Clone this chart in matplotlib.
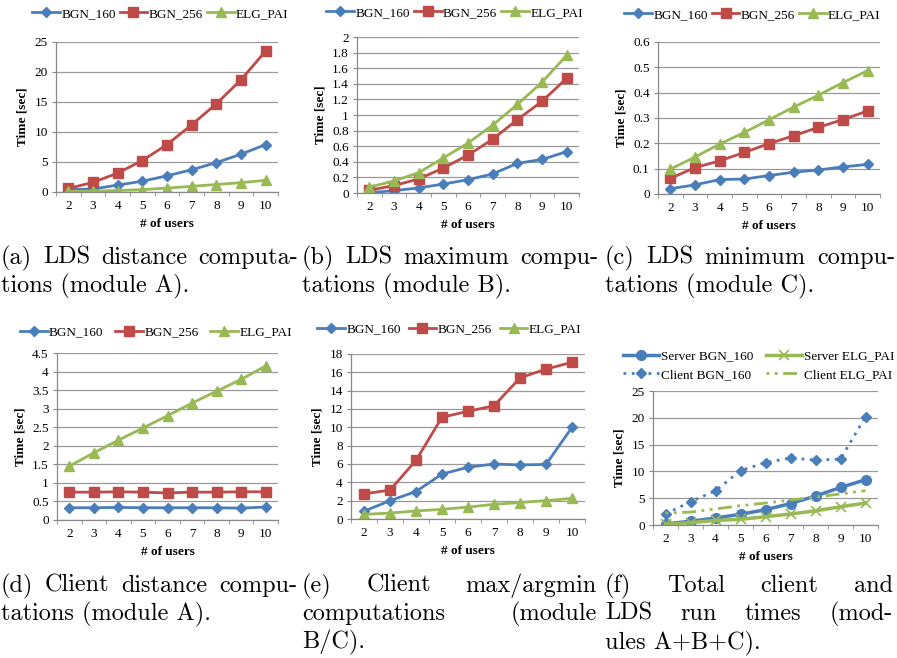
import numpy as np
import matplotlib
matplotlib.use('Agg')
import matplotlib.pyplot as plt
from matplotlib.ticker import FormatStrFormatter, MultipleLocator

# ---- data ----
users = [2, 3, 4, 5, 6, 7, 8, 9, 10]
labels3 = ['BGN_160', 'BGN_256', 'ELG_PAI']

a_bgn160 = [0.4, 0.5, 1.15, 1.8, 2.7, 3.7, 4.9, 6.3, 7.9]
a_bgn256 = [0.6, 1.6, 3.15, 5.25, 7.9, 11.2, 14.7, 18.7, 23.5]
a_elg = [0.1, 0.15, 0.25, 0.4, 0.65, 0.95, 1.25, 1.55, 1.95]

b_bgn160 = [0.005, 0.03, 0.065, 0.115, 0.17, 0.245, 0.38, 0.43, 0.53]
b_bgn256 = [0.035, 0.095, 0.18, 0.32, 0.485, 0.69, 0.94, 1.175, 1.47]
b_elg = [0.075, 0.155, 0.26, 0.45, 0.64, 0.87, 1.135, 1.42, 1.765]

c_bgn160 = [0.021, 0.036, 0.057, 0.059, 0.073, 0.086, 0.095, 0.107, 0.117]
c_bgn256 = [0.062, 0.104, 0.131, 0.164, 0.199, 0.23, 0.263, 0.294, 0.328]
c_elg = [0.098, 0.146, 0.197, 0.243, 0.293, 0.343, 0.39, 0.44, 0.487]

d_bgn160 = [0.33, 0.33, 0.34, 0.33, 0.33, 0.33, 0.33, 0.32, 0.35]
d_bgn256 = [0.75, 0.75, 0.76, 0.75, 0.73, 0.75, 0.75, 0.76, 0.76]
d_elg = [1.45, 1.81, 2.15, 2.48, 2.81, 3.15, 3.47, 3.79, 4.15]

e_bgn160 = [0.85, 2.0, 3.0, 4.9, 5.65, 6.0, 5.9, 5.95, 10.0]
e_bgn256 = [2.75, 3.15, 6.4, 11.1, 11.75, 12.35, 15.4, 16.35, 17.1]
e_elg = [0.5, 0.65, 0.88, 1.05, 1.3, 1.6, 1.8, 2.0, 2.25]

f_server_bgn = [0.2, 0.7, 1.3, 2.0, 2.85, 4.0, 5.4, 7.0, 8.45]
f_client_bgn = [2.05, 4.35, 6.4, 10.15, 11.65, 12.5, 12.1, 12.3, 20.2]
f_server_elg = [0.15, 0.45, 0.85, 1.05, 1.55, 2.05, 2.65, 3.4, 4.1]
f_client_elg = [2.25, 2.4, 3.0, 3.6, 4.1, 4.65, 5.2, 5.8, 6.4]

W, H = 897, 658
BLUE = '#4a7ebb'
RED = '#be4b48'
GREEN = '#98b954'
SERIF = 'Liberation Serif'

fig = plt.figure(figsize=(W / 100, H / 100), dpi=100)


def make_ax(l, r, t, b):
    return fig.add_axes([l / W, 1 - b / H, (r - l) / W, (b - t) / H])


def style(ax, ymax, ystep, fmt='%g'):
    ax.set_xlim(1.5, 10.5)
    ax.set_ylim(0, ymax)
    ax.yaxis.set_major_locator(MultipleLocator(ystep))
    ax.yaxis.set_major_formatter(FormatStrFormatter(fmt))
    ax.set_xticks(users)
    ax.set_xticks(np.arange(1.5, 10.6, 1), minor=True)
    ax.tick_params(axis='x', which='major', length=0, pad=6)
    ax.tick_params(axis='x', which='minor', length=3, color='#888888', direction='out')
    ax.tick_params(axis='y', length=3, color='#888888', pad=3)
    for lab in ax.get_xticklabels() + ax.get_yticklabels():
        lab.set_fontfamily(SERIF)
        lab.set_fontsize(9.5)
    ax.grid(axis='y', color='#9a9a9a', linewidth=0.9)
    ax.set_axisbelow(True)
    for s in ['top', 'right']:
        ax.spines[s].set_visible(False)
    for s in ['left', 'bottom']:
        ax.spines[s].set_color('#888888')
        ax.spines[s].set_linewidth(0.9)
    ax.set_xlabel('# of users', fontfamily=SERIF, fontweight='bold', fontsize=9.5, labelpad=4)
    ax.set_ylabel('Time [sec]', fontfamily=SERIF, fontweight='bold', fontsize=9.5, labelpad=4)


def three_lines(ax, s1, s2, s3, lx, ly, colsp=0.3):
    ax.plot(users, s1, color=BLUE, marker='D', markersize=5, lw=2, label=labels3[0])
    ax.plot(users, s2, color=RED, marker='s', markersize=6.5, lw=2, label=labels3[1])
    ax.plot(users, s3, color=GREEN, marker='^', markersize=7, lw=2, label=labels3[2])
    ax.legend(loc='center', bbox_to_anchor=(lx, ly), ncol=3, frameon=False,
              prop={'family': SERIF, 'size': 9.5}, handlelength=2.1, handletextpad=0.1,
              columnspacing=colsp, borderaxespad=0, borderpad=0)


ax = make_ax(56, 278, 42, 192)
three_lines(ax, a_bgn160, a_bgn256, a_elg, 0.47, 1.187)
style(ax, 25, 5)

ax = make_ax(357, 579, 37, 193)
three_lines(ax, b_bgn160, b_bgn256, b_elg, 0.44, 1.155)
style(ax, 2, 0.2)

ax = make_ax(658, 880, 42, 194)
three_lines(ax, c_bgn160, c_bgn256, c_elg, 0.425, 1.18)
style(ax, 0.6, 0.1)

ax = make_ax(57, 278, 353, 520)
three_lines(ax, d_bgn160, d_bgn256, d_elg, 0.448, 1.125, colsp=0.9)
style(ax, 4.5, 0.5)

ax = make_ax(351, 585, 354, 519)
three_lines(ax, e_bgn160, e_bgn256, e_elg, 0.42, 1.15, colsp=0.6)
style(ax, 18, 2)

ax = make_ax(653, 878, 391, 525)
ax.plot(users, f_server_bgn, color=BLUE, marker='o', markersize=7, lw=2.5, label='Server BGN_160')
ax.plot(users, f_client_bgn, color=BLUE, marker='D', markersize=5.5, lw=2, ls=(0, (1, 2)), label='Client BGN_160')
ax.plot(users, f_server_elg, color=GREEN, marker='x', markersize=7, mew=1.2, lw=2.5, label='Server ELG_PAI')
ax.plot(users, f_client_elg, color=GREEN, lw=2, ls=(0, (1, 2, 1, 2, 5, 2)), label='Client ELG_PAI')
style(ax, 25, 5)
ax.legend(loc='center', bbox_to_anchor=(0.47, 1.19), ncol=2, frameon=False,
          prop={'family': SERIF, 'size': 9.5}, handlelength=2.7, handletextpad=0.15,
          columnspacing=1.0, labelspacing=0.5, borderaxespad=0, borderpad=0)

# ---- captions (justified like the LaTeX original) ----
CAP = dict(family='cmr10', fontsize=17.5, va='baseline', ha='left')
renderer = fig.canvas.get_renderer()


def caption(lines, x0, x1, y0):
    for k, (txt, just) in enumerate(lines):
        y = 1 - (y0 + 28 * k) / H
        if not just:
            fig.text(x0 / W, y, txt, **CAP)
            continue
        words = txt.split(' ')
        ts = [fig.text(0, y, w, **CAP) for w in words]
        ws = [t.get_window_extent(renderer).width for t in ts]
        gap = (x1 - x0 - sum(ws)) / (len(words) - 1)
        x = x0
        for t, w in zip(ts, ws):
            t.set_x(x / W)
            x += w + gap


caption([('(a) LDS distance computa-', True), ('tions (module A).', False)], 1, 298, 264)
caption([('(b) LDS maximum compu-', True), ('tations (module B).', False)], 302, 598, 264)
caption([('(c) LDS minimum compu-', True), ('tations (module C).', False)], 605, 895, 264)
caption([('(d) Client distance compu-', True), ('tations (module A).', False)], 1, 297, 592)
caption([('(e) Client max/argmin', True), ('computations (module', True), ('B/C).', False)], 302, 597, 592)
caption([('(f) Total client and', True), ('LDS run times (mod-', True), ('ules A+B+C).', False)], 605, 893, 592)

fig.savefig('out.png', dpi=100)
